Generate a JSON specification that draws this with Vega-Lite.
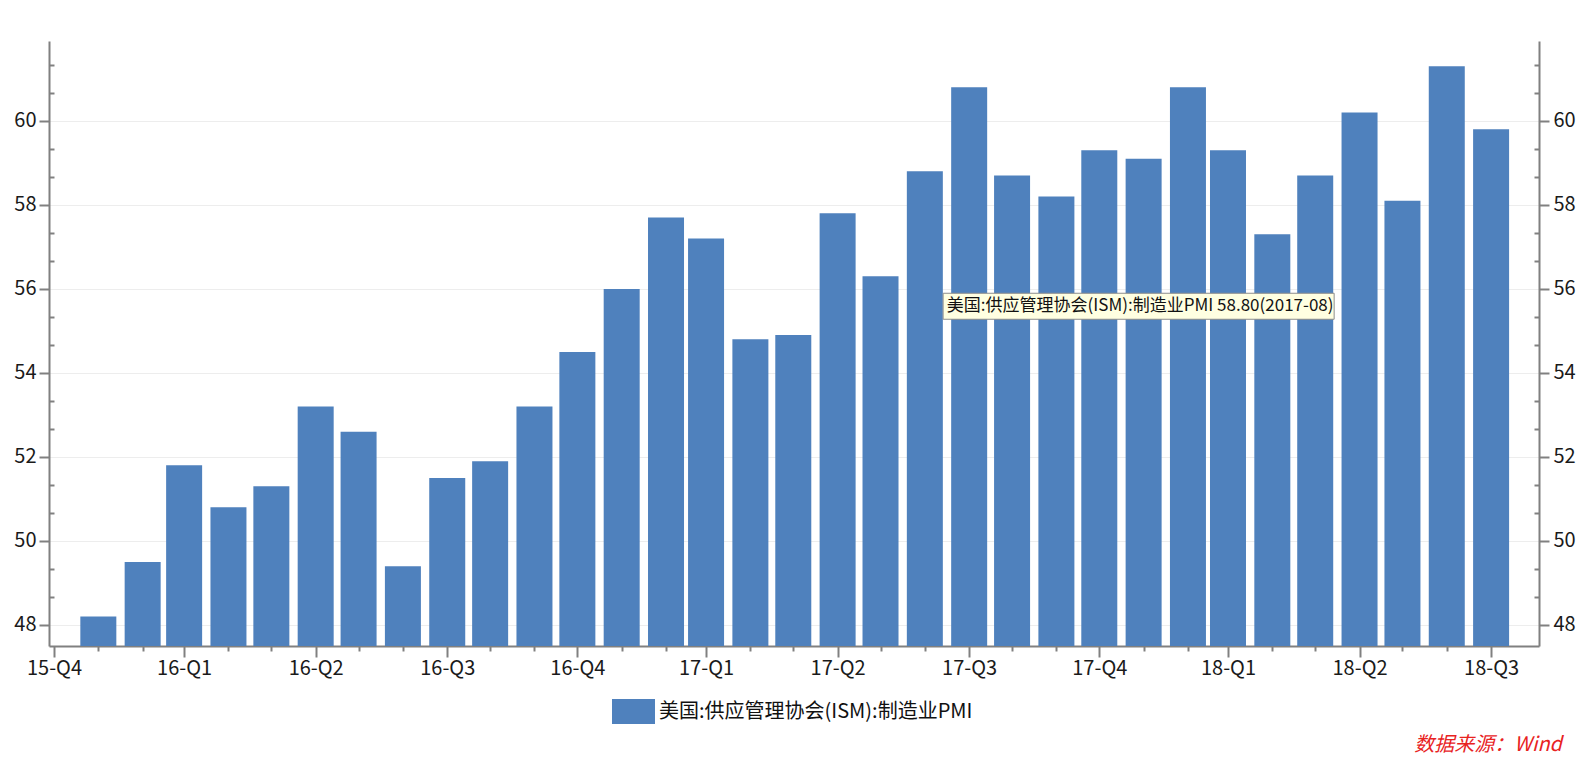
{
  "$schema": "https://vega.github.io/schema/vega-lite/v6.json",
  "autosize": "none",
  "width": 1490,
  "height": 605,
  "padding": {"left": 49, "top": 41, "right": 49, "bottom": 112},
  "background": "white",
  "config": {
    "view": {"stroke": null},
    "font": "Noto Sans CJK SC",
    "axis": {
      "domainColor": "#808080",
      "domainWidth": 2,
      "tickColor": "#808080",
      "tickWidth": 2,
      "labelFont": "Noto Sans CJK SC",
      "labelFontSize": 20,
      "labelColor": "#1a1a1a",
      "title": null,
      "zindex": 1
    }
  },
  "title": {
    "text": "数据来源：Wind",
    "orient": "bottom",
    "anchor": "end",
    "frame": "group",
    "color": "#e8231f",
    "font": "Noto Sans CJK SC",
    "fontSize": 20,
    "fontStyle": "italic",
    "fontWeight": "normal",
    "dx": 23,
    "offset": 11
  },
  "datasets": {
    "pmi": [
      {"date": "2016-01-01", "value": 48.2},
      {"date": "2016-02-01", "value": 49.5},
      {"date": "2016-03-01", "value": 51.8},
      {"date": "2016-04-01", "value": 50.8},
      {"date": "2016-05-01", "value": 51.3},
      {"date": "2016-06-01", "value": 53.2},
      {"date": "2016-07-01", "value": 52.6},
      {"date": "2016-08-01", "value": 49.4},
      {"date": "2016-09-01", "value": 51.5},
      {"date": "2016-10-01", "value": 51.9},
      {"date": "2016-11-01", "value": 53.2},
      {"date": "2016-12-01", "value": 54.5},
      {"date": "2017-01-01", "value": 56.0},
      {"date": "2017-02-01", "value": 57.7},
      {"date": "2017-03-01", "value": 57.2},
      {"date": "2017-04-01", "value": 54.8},
      {"date": "2017-05-01", "value": 54.9},
      {"date": "2017-06-01", "value": 57.8},
      {"date": "2017-07-01", "value": 56.3},
      {"date": "2017-08-01", "value": 58.8},
      {"date": "2017-09-01", "value": 60.8},
      {"date": "2017-10-01", "value": 58.7},
      {"date": "2017-11-01", "value": 58.2},
      {"date": "2017-12-01", "value": 59.3},
      {"date": "2018-01-01", "value": 59.1},
      {"date": "2018-02-01", "value": 60.8},
      {"date": "2018-03-01", "value": 59.3},
      {"date": "2018-04-01", "value": 57.3},
      {"date": "2018-05-01", "value": 58.7},
      {"date": "2018-06-01", "value": 60.2},
      {"date": "2018-07-01", "value": 58.1},
      {"date": "2018-08-01", "value": 61.3},
      {"date": "2018-09-01", "value": 59.8}
    ],
    "tip": [
      {"date": "2017-08-01", "value": 58.8, "label": "美国:供应管理协会(ISM):制造业PMI 58.80(2017-08)"}
    ]
  },
  "resolve": {
    "scale": {"x": "shared", "y": "shared"},
    "axis": {"x": "independent", "y": "independent"}
  },
  "layer": [
    {
      "data": {"name": "pmi"},
      "mark": {"type": "bar", "size": 36, "clip": true},
      "encoding": {
        "x": {
          "field": "date",
          "type": "temporal",
          "scale": {"type": "utc", "domain": [{"year": 2015, "month": 12, "date": 1, "utc": true}, {"year": 2018, "month": 10, "date": 1, "utc": true}], "nice": false},
          "axis": {
            "orient": "bottom",
            "values": [
              {"year": 2015, "month": 12, "date": 1, "utc": true},
              {"year": 2016, "month": 3, "date": 1, "utc": true},
              {"year": 2016, "month": 6, "date": 1, "utc": true},
              {"year": 2016, "month": 9, "date": 1, "utc": true},
              {"year": 2016, "month": 12, "date": 1, "utc": true},
              {"year": 2017, "month": 3, "date": 1, "utc": true},
              {"year": 2017, "month": 6, "date": 1, "utc": true},
              {"year": 2017, "month": 9, "date": 1, "utc": true},
              {"year": 2017, "month": 12, "date": 1, "utc": true},
              {"year": 2018, "month": 3, "date": 1, "utc": true},
              {"year": 2018, "month": 6, "date": 1, "utc": true},
              {"year": 2018, "month": 9, "date": 1, "utc": true}
            ],
            "labelExpr": "utcFormat(datum.value, '%y') + '-Q' + (floor(utcmonth(datum.value) / 3) + 1)",
            "tickSize": 11,
            "labelPadding": 1,
            "labelFlush": false,
            "labelOverlap": false,
            "grid": false
          }
        },
        "y": {
          "field": "value",
          "type": "quantitative",
          "scale": {"domain": [47.5, 61.9], "zero": false, "nice": false},
          "axis": {
            "orient": "left",
            "values": [48, 50, 52, 54, 56, 58, 60],
            "tickSize": 10,
            "labelPadding": 3,
            "grid": true,
            "gridColor": "#ededed",
            "gridWidth": 1,
            "labelFlush": false
          }
        },
        "color": {
          "datum": "美国:供应管理协会(ISM):制造业PMI",
          "type": "nominal",
          "scale": {"range": ["#4f81bd"]},
          "legend": {
            "orient": "none",
            "legendX": 563,
            "legendY": 649,
            "title": null,
            "symbolType": "M-1,-0.58H1V0.58H-1Z",
            "symbolSize": 1849,
            "symbolStrokeWidth": 0,
            "symbolOpacity": 1,
            "labelFont": "Noto Sans CJK SC",
            "labelFontSize": 20,
            "labelColor": "#111111",
            "labelOffset": 4,
            "labelLimit": 600,
            "padding": 0
          }
        }
      }
    },
    {
      "data": {"name": "pmi"},
      "mark": {"type": "point", "opacity": 0},
      "encoding": {
        "x": {
          "field": "date",
          "type": "temporal",
          "axis": {
            "orient": "bottom",
            "values": [
              {"year": 2016, "month": 1, "date": 1, "utc": true},
              {"year": 2016, "month": 2, "date": 1, "utc": true},
              {"year": 2016, "month": 4, "date": 1, "utc": true},
              {"year": 2016, "month": 5, "date": 1, "utc": true},
              {"year": 2016, "month": 7, "date": 1, "utc": true},
              {"year": 2016, "month": 8, "date": 1, "utc": true},
              {"year": 2016, "month": 10, "date": 1, "utc": true},
              {"year": 2016, "month": 11, "date": 1, "utc": true},
              {"year": 2017, "month": 1, "date": 1, "utc": true},
              {"year": 2017, "month": 2, "date": 1, "utc": true},
              {"year": 2017, "month": 4, "date": 1, "utc": true},
              {"year": 2017, "month": 5, "date": 1, "utc": true},
              {"year": 2017, "month": 7, "date": 1, "utc": true},
              {"year": 2017, "month": 8, "date": 1, "utc": true},
              {"year": 2017, "month": 10, "date": 1, "utc": true},
              {"year": 2017, "month": 11, "date": 1, "utc": true},
              {"year": 2018, "month": 1, "date": 1, "utc": true},
              {"year": 2018, "month": 2, "date": 1, "utc": true},
              {"year": 2018, "month": 4, "date": 1, "utc": true},
              {"year": 2018, "month": 5, "date": 1, "utc": true},
              {"year": 2018, "month": 7, "date": 1, "utc": true},
              {"year": 2018, "month": 8, "date": 1, "utc": true}
            ],
            "tickSize": 5,
            "labels": false,
            "domain": false,
            "grid": false
          }
        },
        "y": {
          "field": "value",
          "type": "quantitative",
          "axis": {
            "orient": "left",
            "values": [48.6667, 49.3333, 50.6667, 51.3333, 52.6667, 53.3333, 54.6667, 55.3333, 56.6667, 57.3333, 58.6667, 59.3333, 60.6667, 61.3333],
            "tickSize": -5,
            "labels": false,
            "domain": false,
            "grid": false
          }
        }
      }
    },
    {
      "data": {"name": "pmi"},
      "mark": {"type": "point", "opacity": 0},
      "encoding": {
        "x": {"field": "date", "type": "temporal", "axis": null},
        "y": {
          "field": "value",
          "type": "quantitative",
          "axis": {
            "orient": "right",
            "values": [48, 50, 52, 54, 56, 58, 60],
            "tickSize": 10,
            "labelPadding": 4,
            "grid": false,
            "labelFlush": false
          }
        }
      }
    },
    {
      "data": {"name": "pmi"},
      "mark": {"type": "point", "opacity": 0},
      "encoding": {
        "x": {"field": "date", "type": "temporal", "axis": null},
        "y": {
          "field": "value",
          "type": "quantitative",
          "axis": {
            "orient": "right",
            "values": [48.6667, 49.3333, 50.6667, 51.3333, 52.6667, 53.3333, 54.6667, 55.3333, 56.6667, 57.3333, 58.6667, 59.3333, 60.6667, 61.3333],
            "tickSize": -5,
            "labels": false,
            "domain": false,
            "grid": false
          }
        }
      }
    },
    {
      "data": {"name": "tip"},
      "mark": {
        "type": "point",
        "shape": "M0.0446,0.2976H0.9983V0.361H0.0446Z",
        "size": 672400,
        "filled": true,
        "fill": "#ffffe1",
        "stroke": "#8c8c8c",
        "strokeWidth": 1,
        "opacity": 1
      },
      "encoding": {
        "x": {"field": "date", "type": "temporal", "axis": null},
        "y": {"field": "value", "type": "quantitative", "axis": null}
      }
    },
    {
      "data": {"name": "tip"},
      "mark": {
        "type": "text",
        "align": "left",
        "baseline": "middle",
        "dx": 22,
        "dy": 135,
        "font": "Noto Sans CJK SC",
        "fontSize": 17,
        "color": "#111111"
      },
      "encoding": {
        "x": {"field": "date", "type": "temporal", "axis": null},
        "y": {"field": "value", "type": "quantitative", "axis": null},
        "text": {"field": "label"}
      }
    }
  ]
}
